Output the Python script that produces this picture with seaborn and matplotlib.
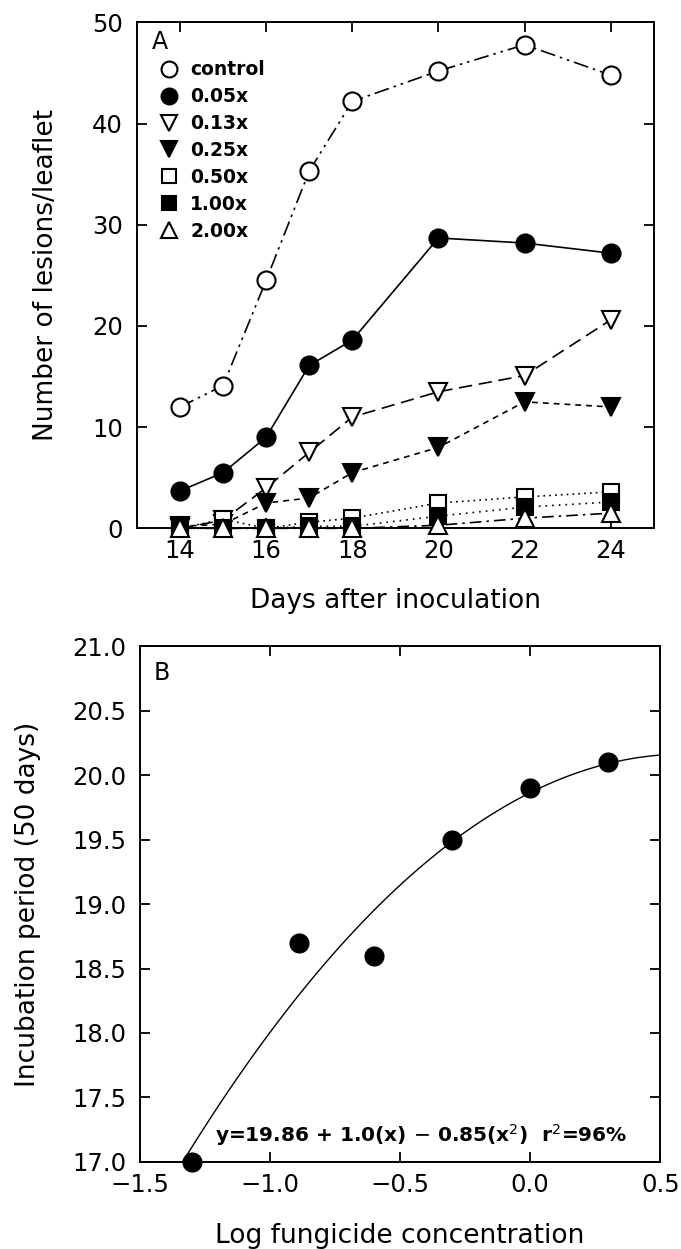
import numpy as np
import pandas as pd
import matplotlib
matplotlib.use("Agg")
import matplotlib.pyplot as plt
import seaborn as sns
from matplotlib.lines import Line2D

# ---------------- data ----------------
days = [14, 15, 16, 17, 18, 20, 22, 24]
control = [12.0, 14.1, 24.5, 35.3, 42.2, 45.2, 47.8, 44.8]
dose_005 = [3.7, 5.5, 9.0, 16.1, 18.6, 28.7, 28.2, 27.2]
dose_013 = [0.0, 0.8, 4.0, 7.5, 11.0, 13.5, 15.1, 20.6]
dose_025 = [0.2, 0.4, 2.5, 3.0, 5.5, 8.0, 12.5, 12.0]
dose_050 = [0.0, 0.9, 0.0, 0.6, 1.0, 2.5, 3.1, 3.6]
dose_100 = [0.0, 0.0, 0.0, 0.2, 0.2, 1.2, 2.1, 2.6]
dose_200 = [0.0, 0.0, 0.0, 0.0, 0.0, 0.3, 1.0, 1.5]
series_labels = ["control", "0.05x", "0.13x", "0.25x", "0.50x", "1.00x", "2.00x"]

log_conc = [-1.30, -0.89, -0.60, -0.30, 0.0, 0.30]
incubation = [17.0, 18.7, 18.6, 19.5, 19.9, 20.1]
equation_text = r"y=19.86 + 1.0(x) $-$ 0.85(x$^{2}$)  r$^{2}$=96%"

# ---------------- style ----------------
sns.set_theme(style="ticks")
plt.rcParams["font.family"] = ["DejaVu Sans"]
plt.rcParams.update({
    "xtick.direction": "in", "ytick.direction": "in",
    "xtick.top": True, "ytick.right": True,
    "xtick.major.size": 7, "ytick.major.size": 7,
    "xtick.major.width": 1.3, "ytick.major.width": 1.3,
    "axes.linewidth": 1.4, "axes.edgecolor": "black",
    "xtick.color": "black", "ytick.color": "black",
    "xtick.labelsize": 17.5, "ytick.labelsize": 17.5,
    "xtick.major.pad": 8, "ytick.major.pad": 10,
    "axes.labelsize": 19, "text.color": "black", "axes.labelcolor": "black",
})

fig = plt.figure(figsize=(6.81, 12.49), dpi=100)
axA = fig.add_axes([0.201, 0.577, 0.759, 0.405])
axB = fig.add_axes([0.2056, 0.0697, 0.764, 0.413])

# ---------------- panel A ----------------
series = [control, dose_005, dose_013, dose_025, dose_050, dose_100, dose_200]
markers = ["o", "o", "v", "v", "s", "s", "^"]
faces = ["white", "black", "white", "black", "white", "black", "white"]
styles = [(0, (9, 3, 1.5, 3, 1.5, 3)), "-", (0, (8, 4)), (0, (3.5, 3)),
          (0, (1, 2.5)), (0, (1, 3)), (0, (7, 3, 1.5, 3))]
msizes = [13, 13, 12.5, 12.5, 11, 11, 12.5]

for vals, mk, fc, ls, ms in zip(series, markers, faces, styles, msizes):
    sns.lineplot(x=days, y=vals, ax=axA, color="black", marker=mk,
                 markerfacecolor=fc, markeredgecolor="black",
                 markeredgewidth=1.5, markersize=ms, linestyle=ls,
                 linewidth=1.2, errorbar=None, clip_on=False, zorder=5)

axA.set_xlim(13, 25)
axA.set_ylim(0, 50)
axA.set_xticks([14, 16, 18, 20, 22, 24])
axA.set_yticks([0, 10, 20, 30, 40, 50])
axA.set_xlabel("Days after inoculation")
axA.set_ylabel("Number of lesions/leaflet")
axA.xaxis.set_label_coords(0.5, -0.118)
axA.yaxis.set_label_coords(-0.15, 0.5)
axA.text(0.029, 0.962, "A", transform=axA.transAxes, fontsize=17,
         ha="left", va="center")

handles = [Line2D([], [], linestyle="none", marker=mk, markerfacecolor=fc,
                  markeredgecolor="black", markeredgewidth=1.5, markersize=ms * 0.88,
                  color="black")
           for mk, fc, ms in zip(markers, faces, msizes)]
axA.legend(handles, series_labels, loc="upper left", bbox_to_anchor=(0.045, 0.925),
           frameon=False, borderpad=0, borderaxespad=0, handlelength=0.9,
           handletextpad=0.7, labelspacing=0.42,
           prop={"size": 13.5, "weight": "bold"})

# ---------------- panel B ----------------
axB.set_xlim(-1.5, 0.5)
axB.set_ylim(17.0, 21.0)
sns.regplot(x=log_conc, y=incubation, order=2, ci=None, truncate=False, ax=axB,
            color="black",
            scatter_kws=dict(s=210, clip_on=False, zorder=5, linewidths=0, alpha=1),
            line_kws=dict(linewidth=1.0))
axB.set_xlim(-1.5, 0.5)
axB.set_ylim(17.0, 21.0)
axB.set_xticks([-1.5, -1.0, -0.5, 0.0, 0.5])
axB.set_yticks(np.arange(17.0, 21.01, 0.5))
axB.set_xlabel("Log fungicide concentration")
axB.set_ylabel("Incubation period (50 days)")
axB.xaxis.set_label_coords(0.5, -0.118)
axB.yaxis.set_label_coords(-0.19, 0.5)
axB.text(0.027, 0.948, "B", transform=axB.transAxes, fontsize=17,
         ha="left", va="center")
axB.text(0.145, 0.039, equation_text, transform=axB.transAxes, fontsize=14.5,
         fontweight="bold", ha="left", va="baseline")

fig.savefig("out.png", dpi=100)
